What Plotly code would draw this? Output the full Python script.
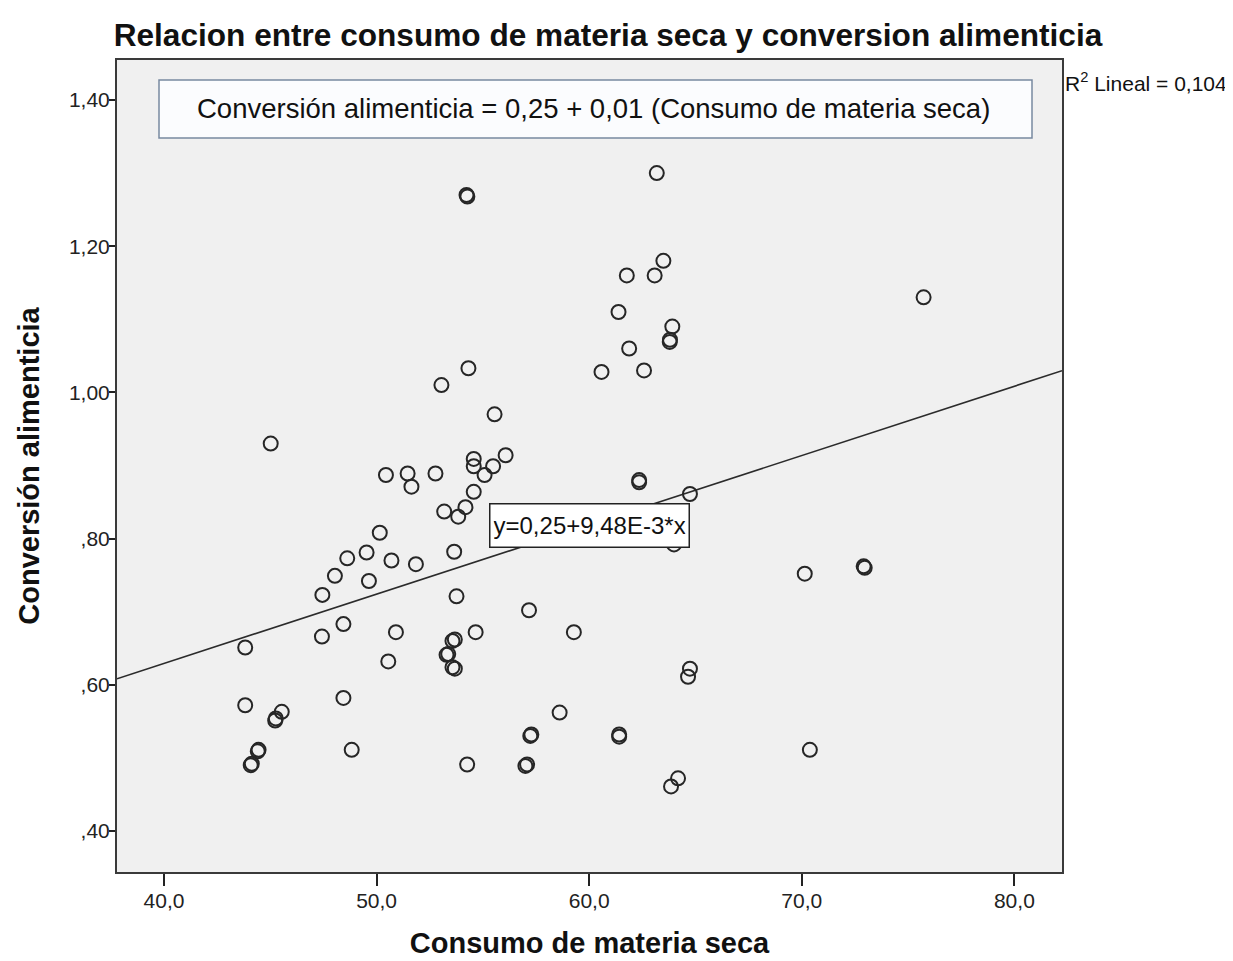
import numpy as np
import plotly.graph_objects as go

# Data (Consumo de materia seca vs Conversión alimenticia)
consumo = [
    54.23, 54.27, 63.18, 63.49, 61.77, 63.08, 61.38, 63.91, 63.79, 63.80,
    61.88, 62.58, 60.58, 54.32, 53.05, 75.73, 45.02, 55.55, 56.07, 54.57,
    54.57, 55.48, 55.08, 50.44, 51.46, 52.77, 51.64, 54.57, 62.35, 62.35,
    64.74, 53.18, 54.18, 53.84, 50.15, 63.99, 53.65, 49.53, 48.62, 50.70,
    51.85, 48.04, 49.64, 47.45, 53.76, 57.17, 70.14, 72.91, 72.96, 48.44,
    50.91, 47.43, 54.66, 59.28, 53.68, 53.57, 53.37, 53.29, 53.68, 53.57,
    50.55, 43.82, 64.74, 64.65, 43.82, 45.54, 45.23, 45.26, 48.44, 58.61,
    57.28, 57.23, 61.41, 61.41, 44.45, 44.41, 44.13, 44.08, 48.83, 54.26,
    57.08, 57.00, 70.38, 64.18, 63.85,
]
conversion = [
    1.270, 1.268, 1.300, 1.180, 1.160, 1.160, 1.110, 1.090, 1.069, 1.072,
    1.060, 1.030, 1.028, 1.033, 1.010, 1.130, 0.930, 0.970, 0.914, 0.909,
    0.899, 0.899, 0.887, 0.887, 0.889, 0.889, 0.871, 0.864, 0.880, 0.877,
    0.861, 0.837, 0.843, 0.830, 0.808, 0.792, 0.782, 0.781, 0.773, 0.770,
    0.765, 0.749, 0.742, 0.723, 0.721, 0.702, 0.752, 0.762, 0.760, 0.683,
    0.672, 0.666, 0.672, 0.672, 0.662, 0.660, 0.642, 0.641, 0.622, 0.624,
    0.632, 0.651, 0.622, 0.611, 0.572, 0.563, 0.551, 0.554, 0.582, 0.562,
    0.532, 0.530, 0.532, 0.529, 0.511, 0.509, 0.492, 0.490, 0.511, 0.491,
    0.491, 0.489, 0.511, 0.472, 0.461,
]

intercept = 0.25
slope = 9.48e-3
r2_text = "R<sup>2</sup> Lineal = 0,104"
eq_text = "y=0,25+9,48E-3*x"
box_text = "Conversión alimenticia = 0,25 + 0,01 (Consumo de materia seca)"

x_ticks = [40, 50, 60, 70, 80]
x_ticktext = ["40,0", "50,0", "60,0", "70,0", "80,0"]
y_ticks = [0.4, 0.6, 0.8, 1.0, 1.2, 1.4]
y_ticktext = [",40", ",60", ",80", "1,00", "1,20", "1,40"]

x_range = [37.79, 82.24]
y_range = [0.3439, 1.4547]

FONT = "Arial, Liberation Sans, sans-serif"

fig = go.Figure()

line_x = np.array(x_range)
line_y = intercept + slope * line_x
fig.add_trace(go.Scatter(
    x=line_x, y=line_y, mode="lines",
    line=dict(color="#2b2b2b", width=1.6),
    hoverinfo="skip", showlegend=False,
))

fig.add_trace(go.Scatter(
    x=consumo, y=conversion, mode="markers",
    marker=dict(symbol="circle-open", size=14, color="#262626",
                line=dict(width=2, color="#262626")),
    showlegend=False,
))

# page has an 8px body margin; plot area in page pixels: x 117..1062, y 60..872
OFF = 8
W, H = 1233 - OFF, 961 - OFF
PL, PR, PT, PB = 117, 1062, 60, 872
ml, mr, mt, mb = PL - OFF, (1233 - PR), PT - OFF, (961 - PB)
pw, ph = PR - PL, PB - PT

def px(xp):
    return (xp - PL) / pw

def py(yp):
    return (PB - yp) / ph

# Equation box at top of plot
fig.add_shape(type="rect", xref="paper", yref="paper",
              x0=px(159), x1=px(1032), y0=py(138), y1=py(80),
              fillcolor="#fbfcfe", line=dict(color="#7889a0", width=1.5))
fig.add_annotation(xref="paper", yref="paper", x=px(593), y=py(109),
                   text=box_text, showarrow=False,
                   font=dict(family=FONT, size=27.5, color="#111111"),
                   xanchor="center", yanchor="middle")

# Fit-line label
fig.add_annotation(xref="paper", yref="paper", x=px(589), y=py(525),
                   text=eq_text, showarrow=False, height=36,
                   font=dict(family=FONT, size=24, color="#111111"),
                   bgcolor="#ffffff", bordercolor="#222222", borderwidth=1.5,
                   borderpad=3, xanchor="center", yanchor="middle")

# R2 label
fig.add_annotation(xref="paper", yref="paper", x=px(1063), y=py(82),
                   text=r2_text, showarrow=False,
                   font=dict(family=FONT, size=21, color="#111111"),
                   xanchor="left", yanchor="middle")

fig.update_layout(
    width=W, height=H,
    margin=dict(l=ml, r=mr, t=mt, b=mb, autoexpand=False),
    paper_bgcolor="#ffffff",
    plot_bgcolor="#f0f0f0",
    title=dict(text="<b>Relacion entre consumo de materia seca y conversion alimenticia</b>",
               x=(608 - OFF) / W, xanchor="center", y=1 - (35 - OFF) / H, yanchor="middle",
               font=dict(family=FONT, size=31.6, color="#111111")),
    xaxis=dict(range=x_range, tickvals=x_ticks, ticktext=x_ticktext,
               showgrid=False, zeroline=False, automargin=False,
               ticks="outside", ticklen=12, tickwidth=2, tickcolor="#222222",
               ticklabelstandoff=-3,
               showline=True, linecolor="#3a3a3a", linewidth=2, mirror=True,
               tickfont=dict(family=FONT, size=21, color="#222222"),
               title=dict(text="<b>Consumo de materia seca</b>", standoff=21,
                          font=dict(family=FONT, size=29, color="#111111"))),
    yaxis=dict(range=y_range, tickvals=y_ticks, ticktext=y_ticktext,
               showgrid=False, zeroline=False, automargin=False,
               ticks="outside", ticklen=6, tickwidth=2, tickcolor="#222222",
               ticklabelstandoff=-5,
               showline=True, linecolor="#3a3a3a", linewidth=2, mirror=True,
               tickfont=dict(family=FONT, size=21, color="#222222"),
               title=dict(text="<b>Conversión alimenticia</b>", standoff=21,
                          font=dict(family=FONT, size=29, color="#111111"))),
)

fig.write_html("out.html")
